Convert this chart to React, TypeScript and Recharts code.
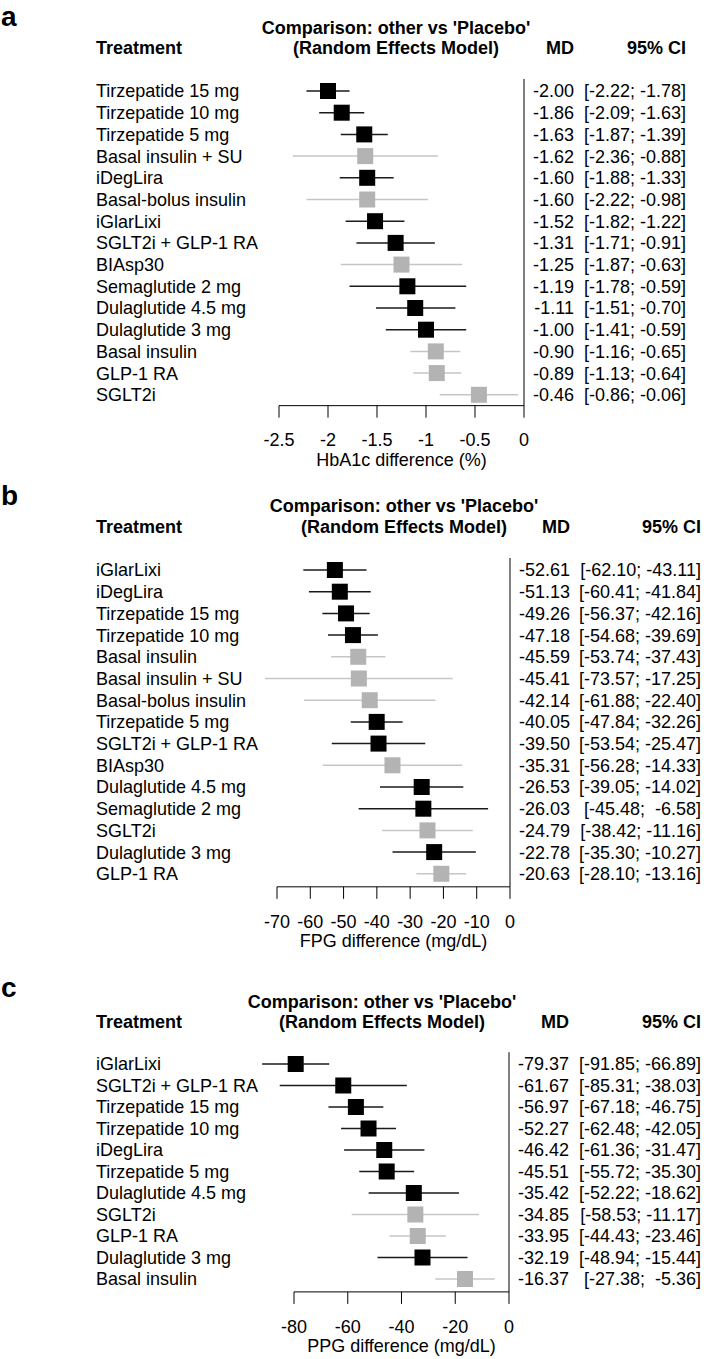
import React from 'react';
import { ScatterChart, Scatter, XAxis, YAxis, ReferenceLine } from 'recharts';

// comparator classes are drawn in grey
const comparators = ['Basal insulin + SU', 'Basal-bolus insulin', 'BIAsp30', 'Basal insulin', 'GLP-1 RA', 'SGLT2i'];

// a: HbA1c
const hba1cNames = [
  'Tirzepatide 15 mg', 'Tirzepatide 10 mg', 'Tirzepatide 5 mg', 'Basal insulin + SU', 'iDegLira',
  'Basal-bolus insulin', 'iGlarLixi', 'SGLT2i + GLP-1 RA', 'BIAsp30', 'Semaglutide 2 mg',
  'Dulaglutide 4.5 mg', 'Dulaglutide 3 mg', 'Basal insulin', 'GLP-1 RA', 'SGLT2i',
];
const hba1cMd = [-2.0, -1.86, -1.63, -1.62, -1.6, -1.6, -1.52, -1.31, -1.25, -1.19, -1.11, -1.0, -0.9, -0.89, -0.46];
const hba1cLo = [-2.22, -2.09, -1.87, -2.36, -1.88, -2.22, -1.82, -1.71, -1.87, -1.78, -1.51, -1.41, -1.16, -1.13, -0.86];
const hba1cHi = [-1.78, -1.63, -1.39, -0.88, -1.33, -0.98, -1.22, -0.91, -0.63, -0.59, -0.7, -0.59, -0.65, -0.64, -0.06];
const hba1cTicks = [-2.5, -2, -1.5, -1, -0.5, 0];

// b: FPG
const fpgNames = [
  'iGlarLixi', 'iDegLira', 'Tirzepatide 15 mg', 'Tirzepatide 10 mg', 'Basal insulin',
  'Basal insulin + SU', 'Basal-bolus insulin', 'Tirzepatide 5 mg', 'SGLT2i + GLP-1 RA', 'BIAsp30',
  'Dulaglutide 4.5 mg', 'Semaglutide 2 mg', 'SGLT2i', 'Dulaglutide 3 mg', 'GLP-1 RA',
];
const fpgMd = [-52.61, -51.13, -49.26, -47.18, -45.59, -45.41, -42.14, -40.05, -39.5, -35.31, -26.53, -26.03, -24.79, -22.78, -20.63];
const fpgLo = [-62.1, -60.41, -56.37, -54.68, -53.74, -73.57, -61.88, -47.84, -53.54, -56.28, -39.05, -45.48, -38.42, -35.3, -28.1];
const fpgHi = [-43.11, -41.84, -42.16, -39.69, -37.43, -17.25, -22.4, -32.26, -25.47, -14.33, -14.02, -6.58, -11.16, -10.27, -13.16];
const fpgTicks = [-70, -60, -50, -40, -30, -20, -10, 0];

// c: PPG
const ppgNames = [
  'iGlarLixi', 'SGLT2i + GLP-1 RA', 'Tirzepatide 15 mg', 'Tirzepatide 10 mg', 'iDegLira',
  'Tirzepatide 5 mg', 'Dulaglutide 4.5 mg', 'SGLT2i', 'GLP-1 RA', 'Dulaglutide 3 mg', 'Basal insulin',
];
const ppgMd = [-79.37, -61.67, -56.97, -52.27, -46.42, -45.51, -35.42, -34.85, -33.95, -32.19, -16.37];
const ppgLo = [-91.85, -85.31, -67.18, -62.48, -61.36, -55.72, -52.22, -58.53, -44.43, -48.94, -27.38];
const ppgHi = [-66.89, -38.03, -46.75, -42.05, -31.47, -35.3, -18.62, -11.17, -23.46, -15.44, -5.36];
const ppgTicks = [-80, -60, -40, -20, 0];

const FONT = "'Liberation Sans', Arial, Helvetica, sans-serif";
const BLACK = '#000000';
const GREY = '#b3b3b3';
const GREY_LINE = '#c6c6c6';
const FS = 18;

const fmt = (v: number) => v.toFixed(2);
const padTo = (s: string, n: number) => ' '.repeat(Math.max(0, n - s.length)) + s;

type Layout = {
  top: number;
  letterY: number;
  compY: number;
  hdrY: number;
  row0: number;
  step: number;
  padBottom: number;
  xLeft: number;
  xRight: number;
  mdRight: number;
  ciRight: number;
  titleCx: number;
};

type PanelProps = {
  letter: string;
  names: string[];
  md: number[];
  lo: number[];
  hi: number[];
  ticks: number[];
  title: string;
  layout: Layout;
};

function ForestPanel({ letter, names, md, lo, hi, ticks, title, layout }: PanelProps) {
  const n = names.length;
  const padTop = 0.55;
  const padBottom = layout.padBottom;
  const plotTop = layout.row0 - padTop * layout.step;
  const plotH = (n - 1 + padTop + padBottom) * layout.step;
  const axisH = 62;
  const height = plotTop - layout.top + plotH + axisH + 4;

  const loS = lo.map(fmt);
  const hiS = hi.map(fmt);
  const loW = Math.max(...loS.map((s) => s.length));
  const hiW = Math.max(...hiS.map((s) => s.length));
  const ci = names.map((_, i) => `[${padTo(loS[i], loW)}; ${padTo(hiS[i], hiW)}]`);

  const rows = names.map((name, i) => ({ row: i, md: md[i], grey: comparators.includes(name) }));
  const rowIdx = rows.map((r) => r.row);

  const square = (p: any) => {
    const s = 16;
    return (
      <rect x={p.cx - s / 2} y={p.cy - s / 2} width={s} height={s}
        fill={p.payload.grey ? GREY : BLACK} />
    );
  };

  const rowTick = (p: any) => {
    const i = p.payload.value;
    return (
      <g>
        <text x={96} y={p.y} dy="0.36em" fontSize={FS} fill="#000">{names[i]}</text>
        <text x={layout.mdRight} y={p.y} dy="0.36em" fontSize={FS} fill="#000" textAnchor="end">{fmt(md[i])}</text>
        <text x={layout.ciRight} y={p.y} dy="0.36em" fontSize={FS} fill="#000" textAnchor="end"
          style={{ whiteSpace: 'pre' }}>{ci[i]}</text>
      </g>
    );
  };

  const rel = (y: number) => y - layout.top;

  return (
    <div style={{ position: 'absolute', left: 0, top: layout.top, width: 704, height }}>
      <ScatterChart
        width={704}
        height={height}
        margin={{ top: plotTop - layout.top, right: 704 - layout.xRight, bottom: 4, left: 0 }}
      >
        <XAxis
          type="number"
          dataKey="md"
          domain={[ticks[0], ticks[ticks.length - 1]]}
          ticks={ticks}
          interval={0}
          height={axisH}
          tickSize={12}
          tickMargin={16}
          tick={{ fontSize: FS, fill: '#000' }}
          stroke="#000"
          label={{ value: title, position: 'insideBottom', offset: 2, fontSize: FS, fill: '#000' }}
        />
        <YAxis
          type="number"
          dataKey="row"
          domain={[-padTop, n - 1 + padBottom]}
          reversed
          ticks={rowIdx}
          interval={0}
          width={layout.xLeft}
          axisLine={false}
          tickLine={false}
          tick={rowTick}
        />
        <ReferenceLine x={0} stroke="#555" strokeWidth={1.5} />
        {rows.map((r) => (
          <ReferenceLine
            key={`ci-${r.row}`}
            segment={[{ x: lo[r.row], y: r.row }, { x: hi[r.row], y: r.row }]}
            stroke={r.grey ? GREY_LINE : '#1a1a1a'}
            strokeWidth={1.5}
            ifOverflow="visible"
          />
        ))}
        <Scatter data={rows} shape={square} isAnimationActive={false} />
      </ScatterChart>
      <svg width={704} height={height} style={{ position: 'absolute', left: 0, top: 0, pointerEvents: 'none' }}>
        <text x={1} y={rel(layout.letterY)} fontSize={28} fontWeight="bold" fill="#000">{letter}</text>
        <text x={layout.titleCx} y={rel(layout.compY)} dy="0.36em" fontSize={FS} fontWeight="bold" textAnchor="middle">
          Comparison: other vs 'Placebo'
        </text>
        <text x={layout.titleCx} y={rel(layout.hdrY)} dy="0.36em" fontSize={FS} fontWeight="bold" textAnchor="middle">
          (Random Effects Model)
        </text>
        <text x={96} y={rel(layout.hdrY)} dy="0.36em" fontSize={FS} fontWeight="bold">Treatment</text>
        <text x={layout.mdRight} y={rel(layout.hdrY)} dy="0.36em" fontSize={FS} fontWeight="bold" textAnchor="end">MD</text>
        <text x={layout.ciRight} y={rel(layout.hdrY)} dy="0.36em" fontSize={FS} fontWeight="bold" textAnchor="end">95% CI</text>
      </svg>
    </div>
  );
}

export default function App() {
  return (
    <div style={{ position: 'absolute', left: 0, top: 0, width: 704, height: 1359, background: '#fff', fontFamily: FONT }}>
      <ForestPanel
        letter="a"
        names={hba1cNames}
        md={hba1cMd}
        lo={hba1cLo}
        hi={hba1cHi}
        ticks={hba1cTicks}
        title="HbA1c difference (%)"
        layout={{ top: 0, letterY: 26, compY: 28, hdrY: 48, row0: 91, step: 21.7, padBottom: 0.5, xLeft: 279, xRight: 524, mdRight: 574, ciRight: 686, titleCx: 396 }}
      />
      <ForestPanel
        letter="b"
        names={fpgNames}
        md={fpgMd}
        lo={fpgLo}
        hi={fpgHi}
        ticks={fpgTicks}
        title="FPG difference (mg/dL)"
        layout={{ top: 470, letterY: 505, compY: 506, hdrY: 527, row0: 570, step: 21.7, padBottom: 0.6, xLeft: 277, xRight: 510, mdRight: 570, ciRight: 701, titleCx: 404 }}
      />
      <ForestPanel
        letter="c"
        names={ppgNames}
        md={ppgMd}
        lo={ppgLo}
        hi={ppgHi}
        ticks={ppgTicks}
        title="PPG difference (mg/dL)"
        layout={{ top: 960, letterY: 997, compY: 1002, hdrY: 1022, row0: 1064, step: 21.5, padBottom: 0.6, xLeft: 294, xRight: 509, mdRight: 569, ciRight: 701, titleCx: 382 }}
      />
    </div>
  );
}
